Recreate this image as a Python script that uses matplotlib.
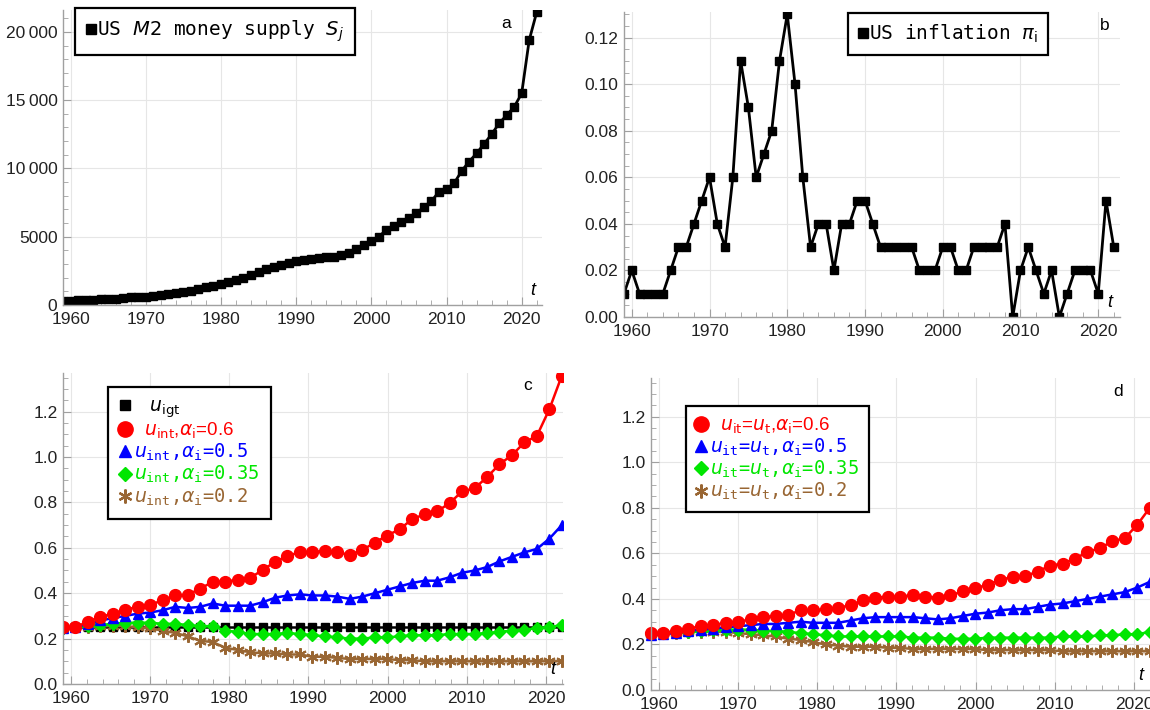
import matplotlib
matplotlib.use("Agg")
import matplotlib.pyplot as plt
from matplotlib.lines import Line2D
from matplotlib.ticker import MultipleLocator, FuncFormatter
import numpy as np

# ---- data ----
years = list(range(1959, 2023))

m2_supply = [290, 310, 330, 360, 390, 420, 450, 470, 510, 550, 580, 610, 680, 760,
             830, 880, 950, 1060, 1200, 1300, 1420, 1520, 1650, 1800, 1950, 2200,
             2400, 2600, 2800, 2900, 3050, 3200, 3300, 3400, 3450, 3530, 3550, 3650,
             3800, 4100, 4400, 4700, 5000, 5500, 5800, 6100, 6400, 6700, 7200, 7600,
             8300, 8500, 8900, 9800, 10500, 11100, 11800, 12500, 13300, 13900, 14500,
             15500, 19400, 21450]

inflation = [0.01, 0.02, 0.01, 0.01, 0.01, 0.01, 0.02, 0.03, 0.03, 0.04, 0.05, 0.06,
             0.04, 0.03, 0.06, 0.11, 0.09, 0.06, 0.07, 0.08, 0.11, 0.13, 0.10, 0.06,
             0.03, 0.04, 0.04, 0.02, 0.04, 0.04, 0.05, 0.05, 0.04, 0.03, 0.03, 0.03,
             0.03, 0.03, 0.02, 0.02, 0.02, 0.03, 0.03, 0.02, 0.02, 0.03, 0.03, 0.03,
             0.03, 0.04, 0.00, 0.02, 0.03, 0.02, 0.01, 0.02, 0.00, 0.01, 0.02, 0.02,
             0.02, 0.01, 0.05, 0.03]

# model time grid (41 steps spanning 1959-2022)
t_model = np.linspace(1959, 2022, 41)

u_igt = [0.25] * 41

c_red = [0.25, 0.25, 0.275, 0.295, 0.31, 0.327, 0.34, 0.35, 0.368, 0.39, 0.393, 0.42,
         0.45, 0.45, 0.46, 0.466, 0.503, 0.537, 0.565, 0.58, 0.58, 0.588, 0.58, 0.569,
         0.59, 0.623, 0.654, 0.682, 0.726, 0.748, 0.76, 0.797, 0.848, 0.862, 0.911,
         0.968, 1.008, 1.064, 1.093, 1.21, 1.358]
c_blue = [0.245, 0.25, 0.265, 0.28, 0.29, 0.30, 0.31, 0.315, 0.325, 0.34, 0.335, 0.34,
          0.355, 0.345, 0.345, 0.345, 0.36, 0.38, 0.39, 0.395, 0.39, 0.39, 0.385, 0.375,
          0.385, 0.40, 0.415, 0.43, 0.445, 0.455, 0.455, 0.47, 0.49, 0.50, 0.515, 0.54,
          0.56, 0.58, 0.595, 0.64, 0.70]
c_green = [0.245, 0.25, 0.255, 0.26, 0.265, 0.27, 0.27, 0.27, 0.265, 0.265, 0.26, 0.255,
           0.255, 0.235, 0.23, 0.22, 0.22, 0.22, 0.225, 0.22, 0.215, 0.21, 0.205, 0.20,
           0.20, 0.205, 0.205, 0.21, 0.215, 0.215, 0.215, 0.22, 0.22, 0.22, 0.225, 0.23,
           0.235, 0.24, 0.245, 0.25, 0.26]
c_brown = [0.245, 0.25, 0.25, 0.255, 0.255, 0.255, 0.25, 0.245, 0.235, 0.225, 0.21, 0.19,
           0.185, 0.16, 0.15, 0.14, 0.135, 0.135, 0.13, 0.13, 0.12, 0.12, 0.115, 0.11,
           0.11, 0.11, 0.11, 0.105, 0.105, 0.10, 0.10, 0.10, 0.10, 0.10, 0.10, 0.10,
           0.10, 0.10, 0.10, 0.10, 0.10]

d_red = [0.25, 0.25, 0.26, 0.27, 0.28, 0.285, 0.295, 0.30, 0.31, 0.32, 0.325, 0.33,
         0.35, 0.35, 0.355, 0.36, 0.373, 0.393, 0.405, 0.41, 0.41, 0.417, 0.41, 0.406,
         0.415, 0.433, 0.447, 0.462, 0.484, 0.496, 0.50, 0.52, 0.546, 0.555, 0.577,
         0.606, 0.623, 0.653, 0.667, 0.726, 0.80]
d_blue = [0.24, 0.245, 0.25, 0.26, 0.265, 0.27, 0.275, 0.28, 0.285, 0.29, 0.29, 0.295,
          0.30, 0.295, 0.295, 0.295, 0.305, 0.315, 0.32, 0.32, 0.32, 0.32, 0.315, 0.31,
          0.315, 0.325, 0.335, 0.34, 0.35, 0.355, 0.355, 0.365, 0.375, 0.38, 0.39, 0.40,
          0.41, 0.42, 0.43, 0.45, 0.475]
d_green = [0.245, 0.25, 0.255, 0.255, 0.26, 0.265, 0.265, 0.265, 0.265, 0.26, 0.26, 0.255,
           0.25, 0.245, 0.24, 0.235, 0.235, 0.235, 0.235, 0.235, 0.235, 0.23, 0.23, 0.23,
           0.225, 0.225, 0.225, 0.23, 0.23, 0.23, 0.23, 0.23, 0.23, 0.235, 0.235, 0.235,
           0.24, 0.24, 0.245, 0.245, 0.255]
d_brown = [0.245, 0.25, 0.25, 0.255, 0.255, 0.255, 0.255, 0.25, 0.245, 0.24, 0.235, 0.225,
           0.22, 0.21, 0.20, 0.195, 0.19, 0.19, 0.19, 0.185, 0.185, 0.18, 0.18, 0.18,
           0.18, 0.18, 0.18, 0.175, 0.175, 0.175, 0.175, 0.175, 0.175, 0.17, 0.17, 0.17,
           0.17, 0.17, 0.17, 0.17, 0.17]

RED, BLUE, GREEN, BROWN = "#ff0000", "#0000ff", "#00e600", "#996633"
STAR = (6, 2, 0)
MONO = "DejaVu Sans Mono"
SANS = "Liberation Sans"

W, H = 1150, 710
fig = plt.figure(figsize=(W / 100, H / 100), dpi=100)
fig.patch.set_facecolor("white")


def box(left, top, right, bottom):
    return [left / W, 1 - bottom / H, (right - left) / W, (bottom - top) / H]


def style(ax, xlim, ylim, ymaj, ymin, fmt):
    ax.set_xlim(*xlim)
    ax.set_ylim(*ylim)
    for s in ("top", "right"):
        ax.spines[s].set_visible(False)
    for s in ("left", "bottom"):
        ax.spines[s].set_color("#a0a0a0")
        ax.spines[s].set_linewidth(1.0)
    ax.xaxis.set_major_locator(MultipleLocator(10))
    ax.xaxis.set_minor_locator(MultipleLocator(2))
    ax.yaxis.set_major_locator(MultipleLocator(ymaj))
    ax.yaxis.set_minor_locator(MultipleLocator(ymin))
    ax.yaxis.set_major_formatter(FuncFormatter(fmt))
    ax.tick_params(which="both", direction="in", color="#a0a0a0",
                   labelsize=12.5, labelcolor="#222222")
    ax.tick_params(axis="x", pad=5)
    ax.tick_params(axis="y", pad=4)
    ax.tick_params(which="major", length=6)
    ax.tick_params(which="minor", length=3.5)
    ax.grid(True, which="major", color="#e6e6e6", linewidth=0.8)
    ax.set_axisbelow(True)
    for lab in ax.get_xticklabels() + ax.get_yticklabels():
        lab.set_family(SANS)
    ax.text(0.985, 0.02, "t", transform=ax.transAxes, style="italic",
            fontsize=13, family=SANS, ha="right", va="bottom")


def panel_letter(ax, letter, xfrac, ypix_below_top):
    bb = ax.get_position()
    y = 1 - ypix_below_top / (bb.height * H)
    ax.text(xfrac, y, letter, transform=ax.transAxes, fontsize=12.5,
            family=SANS, ha="center", va="center")


def place_legend(ax, handles, labels, left, top, **kw):
    bb = ax.get_position()
    x = (left / W - bb.x0) / bb.width
    y = ((1 - top / H) - bb.y0) / bb.height
    leg = ax.legend(handles, labels, loc="upper left", bbox_to_anchor=(x, y),
                    frameon=True, fancybox=False, framealpha=1, borderaxespad=0,
                    **kw)
    leg.get_frame().set_edgecolor("black")
    leg.get_frame().set_linewidth(1.6)
    return leg


def thin_thousands(v, pos):
    v = int(round(v))
    if v >= 10000:
        return f"{v // 1000}\u2009{v % 1000:03d}"
    return f"{v}"


# ---- panel a ----
ax_a = fig.add_axes(box(63, 10, 542, 305))
ax_a.plot(years, m2_supply, color="black", lw=2.0, marker="s", ms=5.5)
style(ax_a, (1959, 2022.7), (0, 21600), 5000, 1000, thin_thousands)
panel_letter(ax_a, "a", 0.925, 13)
h = [Line2D([], [], color="black", marker="s", ls="", ms=7)]
leg = place_legend(ax_a, h, [r"US $M2$ money supply $S_j$"], 75, 8,
                   handlelength=0.5, handletextpad=0.1, borderpad=0.55,
                   prop={"family": MONO, "size": 14})

# ---- panel b ----
ax_b = fig.add_axes(box(624, 12, 1120, 317))
ax_b.plot(years, inflation, color="black", lw=2.0, marker="s", ms=5.5)
style(ax_b, (1959, 2022.8), (0, 0.131), 0.02, 0.005, lambda v, p: f"{v:.2f}")
panel_letter(ax_b, "b", 0.97, 13)
leg = place_legend(ax_b, h, [r"US inflation $\pi_{\rm i}$"], 848, 13,
                   handlelength=0.5, handletextpad=0.1, borderpad=0.5,
                   prop={"family": MONO, "size": 14})

# ---- panel c ----
ax_c = fig.add_axes(box(63, 373, 563, 684))
ax_c.plot(t_model, u_igt, color="black", lw=1.8, marker="s", ms=6)
ax_c.plot(t_model, c_brown, color=BROWN, lw=1.8, marker=STAR, ms=9, mew=1.5)
ax_c.plot(t_model, c_green, color=GREEN, lw=1.8, marker="D", ms=6)
ax_c.plot(t_model, c_blue, color=BLUE, lw=1.8, marker="^", ms=7)
ax_c.plot(t_model, c_red, color=RED, lw=1.8, marker="o", ms=8.5)
style(ax_c, (1959, 2022.15), (0, 1.37), 0.2, 0.05, lambda v, p: f"{v:.1f}")
panel_letter(ax_c, "c", 0.93, 12)

hc = [Line2D([], [], color="black", marker="s", ls="", ms=7),
      Line2D([], [], color=RED, marker="o", ls="", ms=11),
      Line2D([], [], color=BLUE, marker="^", ls="", ms=8),
      Line2D([], [], color=GREEN, marker="D", ls="", ms=7),
      Line2D([], [], color=BROWN, marker=STAR, ls="", ms=10, mew=1.6)]
lc = [r"   $u_{\rm igt}$",
      r"  $u_{\rm int}$,$\alpha_{\rm i}$=0.6",
      r"$u_{\mathtt{int}}$,$\alpha_{\mathtt{i}}$=0.5",
      r"$u_{\mathtt{int}}$,$\alpha_{\mathtt{i}}$=0.35",
      r"$u_{\mathtt{int}}$,$\alpha_{\mathtt{i}}$=0.2"]
leg = place_legend(ax_c, hc, lc, 108, 387, handlelength=0.6, handletextpad=0.2,
                   borderpad=0.6, labelspacing=0.05,
                   prop={"family": MONO, "size": 13.5})
for txt, col, fam in zip(leg.get_texts(), ["black", RED, BLUE, GREEN, BROWN],
                         [SANS, SANS, MONO, MONO, MONO]):
    txt.set_color(col)
    txt.set_family(fam)

# ---- panel d ----
ax_d = fig.add_axes(box(651, 378, 1151, 690))
ax_d.plot(t_model, d_brown, color=BROWN, lw=1.8, marker=STAR, ms=9, mew=1.5)
ax_d.plot(t_model, d_green, color=GREEN, lw=1.8, marker="D", ms=6)
ax_d.plot(t_model, d_blue, color=BLUE, lw=1.8, marker="^", ms=7)
ax_d.plot(t_model, d_red, color=RED, lw=1.8, marker="o", ms=8.5)
style(ax_d, (1959, 2022.15), (0, 1.37), 0.2, 0.05, lambda v, p: f"{v:.1f}")
for ln in ax_d.get_lines():
    ln.set_clip_on(False)
panel_letter(ax_d, "d", 0.934, 13)

ld = [r"  $u_{\rm it}$=$u_{\rm t}$,$\alpha_{\rm i}$=0.6",
      r"$u_{\mathtt{it}}$=$u_{\mathtt{t}}$,$\alpha_{\mathtt{i}}$=0.5",
      r"$u_{\mathtt{it}}$=$u_{\mathtt{t}}$,$\alpha_{\mathtt{i}}$=0.35",
      r"$u_{\mathtt{it}}$=$u_{\mathtt{t}}$,$\alpha_{\mathtt{i}}$=0.2"]
leg = place_legend(ax_d, hc[1:], ld, 686, 406, handlelength=0.6,
                   handletextpad=0.2, borderpad=0.5, labelspacing=0.05,
                   prop={"family": MONO, "size": 13.5})
for txt, col, fam in zip(leg.get_texts(), [RED, BLUE, GREEN, BROWN],
                         [SANS, MONO, MONO, MONO]):
    txt.set_color(col)
    txt.set_family(fam)

fig.savefig("out.png", dpi=100)
